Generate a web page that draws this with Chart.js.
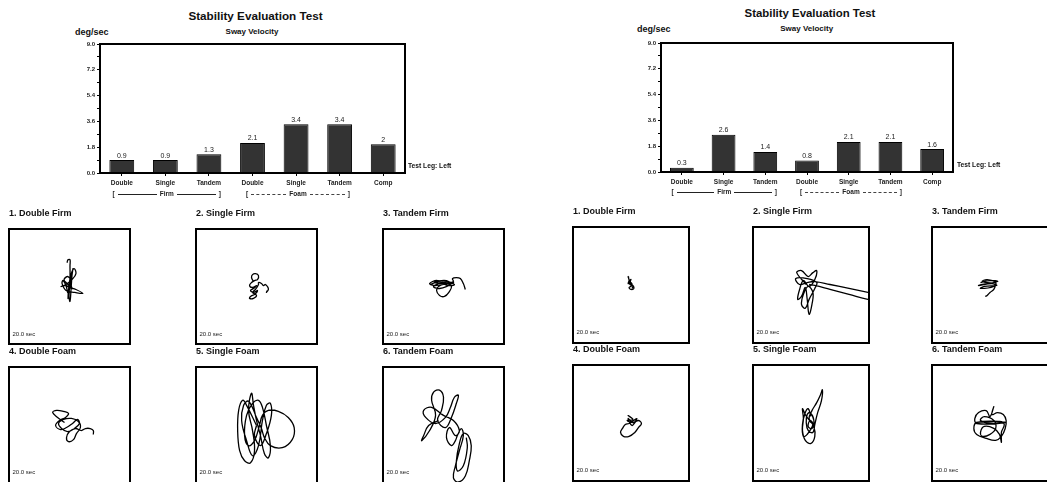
<!DOCTYPE html>
<html><head><meta charset="utf-8">
<script src="https://cdn.jsdelivr.net/npm/chart.js@4.4.1/dist/chart.umd.min.js"></script>
<style>
html,body{margin:0;padding:0;background:#fff;}
body{width:1047px;height:482px;position:relative;overflow:hidden;font-family:"Liberation Sans",Arial,sans-serif;color:#111;}
.t{position:absolute;white-space:nowrap;line-height:1;font-weight:bold;}
.box{position:absolute;border:2px solid #000;box-sizing:border-box;background:#fff;overflow:hidden;}
.box canvas{position:absolute;left:0;top:0;}
.br{position:absolute;display:flex;align-items:center;font-weight:bold;white-space:nowrap;line-height:1;color:#222;}
.br .ln{flex:1;border-top:1px solid #222;margin:0 3px;height:0;}
.br .ln.d{border-top:1px dashed #444;}
</style></head><body>
<script>
// ---------- data ----------
const categories = ['Double','Single','Tandem','Double','Single','Tandem','Comp'];
const leftVelocity = [0.9, 0.9, 1.3, 2.1, 3.4, 3.4, 2];
const rightVelocity = [0.3, 2.6, 1.4, 0.8, 2.1, 2.1, 1.6];
const yTickLabels = ['0.0','1.8','3.6','5.4','7.2','9.0'];
const groupLabels = ['Firm','Foam'];
const panelTitles = ['1. Double Firm','2. Single Firm','3. Tandem Firm','4. Double Foam','5. Single Foam','6. Tandem Foam'];
const trialTime = '20.0 sec';

// sway traces (x, y) – left session
const leftSway1 = [[-2.5,24],[-1.5,27],[0.5,27],[0.5,21],[0.5,6],[-0.5,-10],[0.5,-15],[1.5,-4],[2.5,11],[3.5,18],[1.5,6],[-1.5,-6],[-3.5,1],[-6.5,6],[-7.5,3],[-3.5,-4],[5.5,-6],[13.5,-7],[6.5,-3],[0.5,-1],[-4.5,1],[-8.5,0],[-3.5,2],[2.5,7],[6.5,13],[4.5,18],[1.5,12],[-0.5,1],[-1.5,-12],[-0.5,-4],[1.5,4],[-1.5,10],[-5.5,7],[-2.5,3],[2.5,-2],[0.5,3]];
const leftSway2 = [[-3,5],[-5,9],[-4,12],[-1,13],[2,11],[1,7],[-2,6],[-5,4],[-7,1],[-4,-1],[0,1],[-3,-2],[-6,-4],[-3,-6],[1,-4],[-2,-8],[-6,-10],[-7,-12],[-3,-12],[0,-9],[-4,-6],[-1,-3],[2,2],[2,4],[5,3],[7,1],[9,2],[11,0],[12,-3],[10,-6],[11,-4]];
const leftSway3 = [[-13,2],[-5,5],[5,3],[10,4],[-8,1],[-14,3],[-6,6],[4,1],[11,2],[2,5],[-10,0],[-4,-2],[6,2],[-9,4],[3,6],[8,0],[6,-5],[1,-10],[-4,-9],[-7,-4],[-5,0],[2,3],[10,5],[9,8],[13,9],[17,8],[20,3],[22,-3]];
const leftSway4 = [[-5,3],[-12,8],[-17,13],[-13,15],[-6,14],[-1,12],[-4,8],[-10,5],[-14,0],[-9,-4],[-3,-2],[3,2],[8,6],[10,2],[5,-3],[-2,-6],[-8,-3],[-11,2],[-6,6],[2,7],[9,4],[11,-2],[7,-8],[4,-14],[-1,-16],[-3,-12],[0,-6],[6,-3],[12,-5],[16,-3],[21,-3],[24,-5],[24,-9]];
const leftSway5 = [[0,0],[-10,20],[-14,25],[-18,15],[-19,-5],[-17,-25],[-12,-35],[-6,-37],[-2,-25],[-4,-5],[-8,15],[-5,32],[-3,20],[0,5],[4,-10],[8,-28],[12,-32],[14,-20],[10,0],[6,18],[2,25],[-4,22],[-10,10],[-12,-10],[-8,-20],[-2,-15],[3,0],[6,10],[12,15],[22,14],[32,8],[38,-2],[36,-14],[26,-22],[14,-20],[8,-12],[5,-3],[0,8],[-8,24],[-13,20],[-15,5],[-10,-15],[-4,-30],[2,-20],[6,5],[10,20],[14,22],[15,10],[10,-8],[4,-20],[-2,-10],[0,0]];
const leftSway6 = [[-5,5],[-15,0],[-20,-10],[-22,-15],[-14,-5],[-8,10],[-12,25],[-10,33],[-4,35],[0,28],[-2,15],[-6,5],[2,-2],[8,8],[13,22],[15,30],[11,28],[7,18],[2,8],[-8,2],[-18,8],[-20,15],[-12,18],[0,10],[10,5],[16,-5],[12,-10],[6,-2],[3,-12],[8,-20],[12,-15],[14,-10],[18,-3],[20,-10],[16,-25],[12,-40],[10,-52],[15,-56],[22,-50],[26,-35],[28,-20],[25,-10],[20,-8],[16,-18],[13,-35],[14,-45],[20,-40],[24,-22],[23,-12]];
// sway traces (x, y) – right session
const rightSway1 = [[-2,7],[-3,8],[-2,4],[-3,1],[0,2],[1,-1],[-2,-3],[0,-5],[3,-4],[2,-1],[-1,0],[-2,3],[0,5],[-1,2],[2,-2],[1,-4]];
const rightSway2 = [[-5,0],[-15,12],[-10,14],[-3,8],[2,12],[6,14],[4,5],[-2,-2],[-8,4],[-12,-5],[-14,-15],[-10,-12],[-6,-3],[-4,-15],[-2,-30],[1,-20],[2,-8],[-3,-2],[-8,-10],[-10,-20],[-6,-24],[-2,-15],[4,-4],[6,2],[-4,6],[-16,6],[-12,0],[-4,2],[4,3],[20,0],[40,-4],[60,-8],[75,-11],[75,-18],[60,-15],[40,-10],[20,-5],[4,-1],[-2,0]];
const rightSway3 = [[-10,2],[0,4],[8,3],[-8,0],[-12,-1],[2,1],[7,-1],[-6,-2],[-10,-4],[4,-2],[6,2],[-3,5],[-8,3],[5,0],[4,-5],[0,-8],[-3,-11],[-5,-12]];
const rightSway4 = [[0,5],[-3,7],[2,3],[-4,2],[3,0],[6,4],[-2,-1],[-6,-2],[-9,-6],[-11,-10],[-8,-14],[-2,-14],[4,-10],[8,-5],[11,-1],[8,2],[2,0],[-3,4],[1,-3],[5,1]];
const rightSway5 = [[0,0],[-6,8],[-9,14],[-8,4],[-9,-8],[-6,-18],[0,-21],[4,-14],[3,-4],[-2,4],[1,12],[6,20],[10,28],[12,33],[11,22],[7,10],[4,-2],[2,-10],[-3,-8],[-5,0],[-4,8],[-1,10],[3,2],[1,-6],[-3,-4],[-1,2],[2,-2],[-4,-12],[-8,-14],[-9,-2],[-6,10],[-3,14],[0,6]];
const rightSway6 = [[-16,0],[0,1],[16,0],[-14,-1],[-16,4],[-12,10],[-4,12],[0,6],[4,16],[2,8],[8,10],[14,8],[17,2],[16,-6],[12,-14],[6,-18],[-4,-16],[-14,-12],[-17,-6],[-14,0],[10,1],[15,-2],[12,-10],[12,-20],[10,-12],[4,-6],[-6,-4],[-10,-10],[-8,-14],[0,-12],[6,-6],[4,2],[-6,6],[-10,2],[2,-1],[14,0]];

// ---------- helpers ----------
const FONT = '"Liberation Sans", Arial, sans-serif';
Chart.defaults.font.family = FONT;

function txt(s, x, y, size, center, weight) {
  const d = document.createElement('div');
  d.className = 't';
  d.textContent = s;
  d.style.fontSize = size + 'px';
  d.style.left = x + 'px';
  d.style.top = (y - size * 0.5) + 'px';
  if (weight) d.style.fontWeight = weight;
  if (center) d.style.transform = 'translateX(-50%)';
  document.body.appendChild(d);
  return d;
}

function bracket(label, x1, x2, y, dashed) {
  const d = document.createElement('div');
  d.className = 'br';
  d.style.left = x1 + 'px';
  d.style.width = (x2 - x1) + 'px';
  d.style.top = (y - 4) + 'px';
  d.style.height = '8px';
  d.style.fontSize = '6.5px';
  d.innerHTML = '<span>[</span><span class="ln' + (dashed ? ' d' : '') + '"></span><span>' + label +
    '</span><span class="ln' + (dashed ? ' d' : '') + '"></span><span>]</span>';
  document.body.appendChild(d);
}

const framePlugin = {
  id: 'frame',
  afterDatasetsDraw(chart) {
    const { ctx, chartArea: a } = chart;
    ctx.save();
    ctx.strokeStyle = '#000';
    ctx.lineWidth = 2;
    ctx.strokeRect(a.left, a.top, a.right - a.left, a.bottom - a.top);
    ctx.restore();
  }
};
const valuePlugin = {
  id: 'vals',
  afterDatasetsDraw(chart) {
    const ctx = chart.ctx;
    const meta = chart.getDatasetMeta(0);
    const vals = chart.data.datasets[0].data;
    ctx.save();
    ctx.font = '7px ' + FONT;
    ctx.fillStyle = '#222';
    ctx.textAlign = 'center';
    ctx.textBaseline = 'bottom';
    meta.data.forEach((el, i) => ctx.fillText(String(vals[i]), el.x, el.y - 1));
    ctx.restore();
  }
};

function barChart(left, top, w, h, values) {
  const c = document.createElement('canvas');
  c.width = w; c.height = h;
  c.style.position = 'absolute'; c.style.left = left + 'px'; c.style.top = top + 'px';
  document.body.appendChild(c);
  new Chart(c, {
    type: 'bar',
    data: { labels: categories, datasets: [{ data: values, backgroundColor: '#333333', borderColor: '#000', borderWidth: 1, barPercentage: 0.57, categoryPercentage: 1 }] },
    options: {
      responsive: false, animation: false, devicePixelRatio: 1,
      layout: { padding: { left: 0, right: 5, top: 8, bottom: 0 } },
      plugins: { legend: { display: false }, tooltip: { enabled: false } },
      scales: {
        x: {
          grid: { display: true, drawOnChartArea: false, drawTicks: true, tickLength: 3, offset: false, color: '#000' },
          border: { display: false },
          ticks: { padding: 3, font: { size: 6.5, weight: 'bold' }, color: '#222', maxRotation: 0, autoSkip: false },
          afterFit: s => { s.height = 23; }
        },
        y: {
          min: 0, max: 9,
          ticks: { stepSize: 0.9, padding: 2, autoSkip: false, font: { size: 6, weight: 'bold' }, color: '#222',
            callback: v => { const s = Number(v).toFixed(1); return yTickLabels.includes(s) ? s : ''; } },
          grid: { drawOnChartArea: false, tickLength: 3, color: '#000' },
          border: { display: false },
          afterFit: s => { s.width = 40; }
        }
      }
    },
    plugins: [framePlugin, valuePlugin]
  });
}

function swayPanel(left, top, w, h, pts, title) {
  txt(title, left + 1, top - 14.5, 9, false);
  const box = document.createElement('div');
  box.className = 'box';
  box.style.left = left + 'px'; box.style.top = top + 'px';
  box.style.width = w + 'px'; box.style.height = h + 'px';
  const c = document.createElement('canvas');
  c.width = w - 4; c.height = h - 4;
  box.appendChild(c);
  document.body.appendChild(box);
  const lbl = txt(trialTime, left + 4.5, top + 105.5, 6, false, 'normal');
  lbl.style.color = '#222';
  new Chart(c, {
    type: 'scatter',
    data: { datasets: [{ data: pts.map(p => ({ x: p[0], y: p[1] })), showLine: true, borderColor: '#000', borderWidth: 1.3, pointRadius: 0, tension: 0.4, fill: false }] },
    options: {
      responsive: false, animation: false, devicePixelRatio: 1,
      layout: { padding: 0 },
      plugins: { legend: { display: false }, tooltip: { enabled: false } },
      scales: {
        x: { display: false, min: -60, max: 60 },
        y: { display: false, min: -57, max: 57 }
      }
    }
  });
}

// ---------- left session ----------
txt('Stability Evaluation Test', 255.5, 16, 11.7, true);
txt('deg/sec', 75, 32, 9, false);
txt('Sway Velocity', 252, 32, 8, true);
barChart(60, 36, 350, 137 + 23, leftVelocity);
txt('Test Leg: Left', 408, 166, 6.7, false);
bracket(groupLabels[0], 112.5, 221, 194, false);
bracket(groupLabels[1], 246, 350, 194, true);

const leftTraces = [leftSway1, leftSway2, leftSway3, leftSway4, leftSway5, leftSway6];
const lCols = [8, 195, 382];
leftTraces.forEach((t, i) => {
  const row = Math.floor(i / 3), col = i % 3;
  swayPanel(lCols[col], row ? 366 : 228, 123, row ? 119 : 117, t, panelTitles[i]);
});

// ---------- right session ----------
txt('Stability Evaluation Test', 810, 14, 11.4, true);
txt('deg/sec', 637, 29, 9, false);
txt('Sway Velocity', 806.7, 29, 8, true);
barChart(621, 35, 337, 137 + 23, rightVelocity);
txt('Test Leg: Left', 957, 165, 6.7, false);
bracket(groupLabels[0], 671.5, 777, 192.3, false);
bracket(groupLabels[1], 800, 902, 192.3, true);

const rightTraces = [rightSway1, rightSway2, rightSway3, rightSway4, rightSway5, rightSway6];
const rCols = [572, 752, 931];
rightTraces.forEach((t, i) => {
  const row = Math.floor(i / 3), col = i % 3;
  swayPanel(rCols[col], row ? 364 : 226, 118, 117.5, t, panelTitles[i]);
});
</script>
</body></html>
